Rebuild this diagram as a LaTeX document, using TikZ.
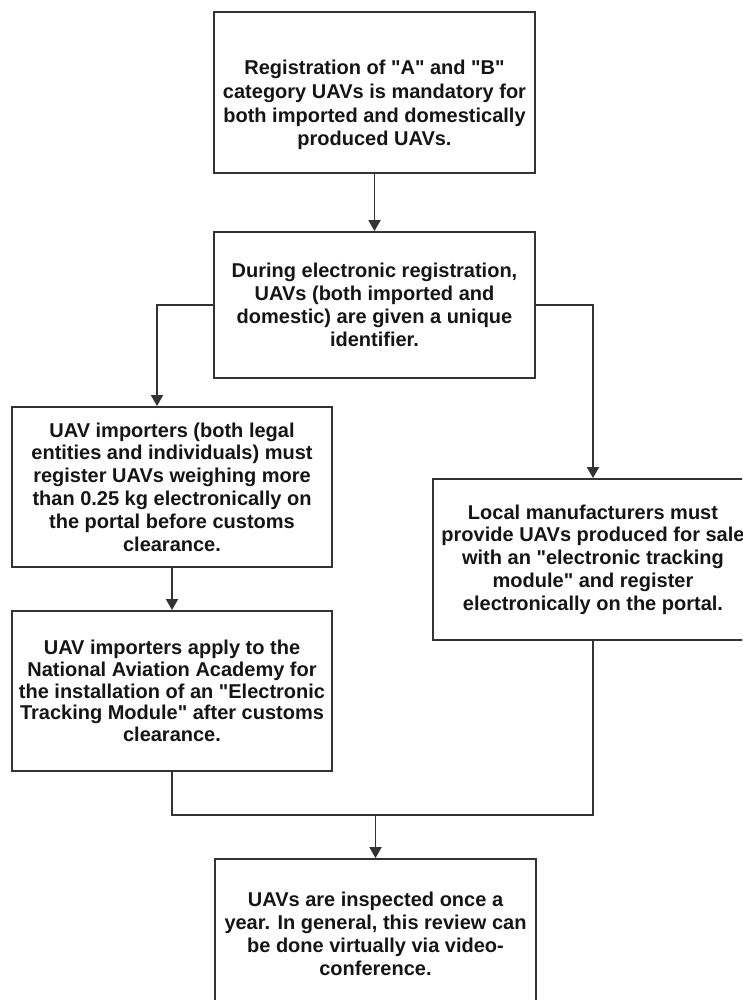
\documentclass[tikz,border=0pt]{standalone}
\usepackage{fontspec}
\setmainfont{Liberation Sans}[Ligatures=TeXOff]
\usetikzlibrary{arrows.meta}
\definecolor{linec}{HTML}{333333}
\definecolor{txtc}{HTML}{151515}
\tikzset{
  box/.style={draw=linec, line width=1.8pt, fill=white, rectangle, inner sep=0pt},
  txt/.style={align=center, text=txtc, font=\bfseries\fontsize{20}{22.8}\selectfont, inner sep=0pt},
  conn/.style={draw=linec, line width=1.8pt, -{Triangle[length=11pt,width=12pt]}},
  plain/.style={draw=linec, line width=1.8pt}
}
\begin{document}
\begin{tikzpicture}[x=1pt,y=-1pt]
\useasboundingbox (0,0) rectangle (742,1000);
\clip (0,0) rectangle (742,1000);
\fill[white] (0,0) rectangle (742,1000);

\node[box, minimum width=321pt, minimum height=161pt] (b1) at (374.5,92.5) {};
\node[txt, font=\bfseries\fontsize{20}{23.7}\selectfont] (t1) at (374.5,105) {Registration of "A" and "B"\\category UAVs is mandatory for\\both imported and domestically\\produced UAVs.};

\node[box, txt, minimum width=321pt, minimum height=146pt] (b2) at (374.5,305) {During electronic registration,\\UAVs (both imported and\\domestic) are given a unique\\identifier.};

\node[box, txt, minimum width=320pt, minimum height=160pt] (b3) at (172,487) {UAV importers (both legal\\entities and individuals) must\\register UAVs weighing more\\than 0.25 kg electronically on\\the portal before customs\\clearance.};

\node[box, txt, minimum width=320pt, minimum height=161pt] (b4) at (593,559.5) {Local manufacturers must\\provide UAVs produced for sale\\with an "electronic tracking\\module" and register\\electronically on the portal.};

\node[box, txt, font=\bfseries\fontsize{20}{21.8}\selectfont, minimum width=320pt, minimum height=160pt] (b5) at (172,691) {UAV importers apply to the\\National Aviation Academy for\\the installation of an "Electronic\\Tracking Module" after customs\\clearance.};

\node[box, minimum width=321pt, minimum height=160pt] (b6) at (375.5,939) {};
\node[txt] (t6) at (375.5,934) {UAVs are inspected once a\\year. In general, this review can\\be done virtually via video-\\conference.};

\coordinate (lb) at (157,305);
\coordinate (rb) at (593,305);
\coordinate (mj) at (375.5,815);

\draw[conn] (b1.south) -- (b2.north);
\draw[conn] (b2.west) -- (lb) -- (lb |- b3.north);
\draw[conn] (b2.east) -- (rb) -- (b4.north);
\draw[conn] (b3.south) -- (b5.north);
\draw[plain] (b5.south) |- (mj);
\draw[plain] (b4.south) |- (mj);
\draw[conn] (mj) -- (b6.north);
\end{tikzpicture}
\end{document}
